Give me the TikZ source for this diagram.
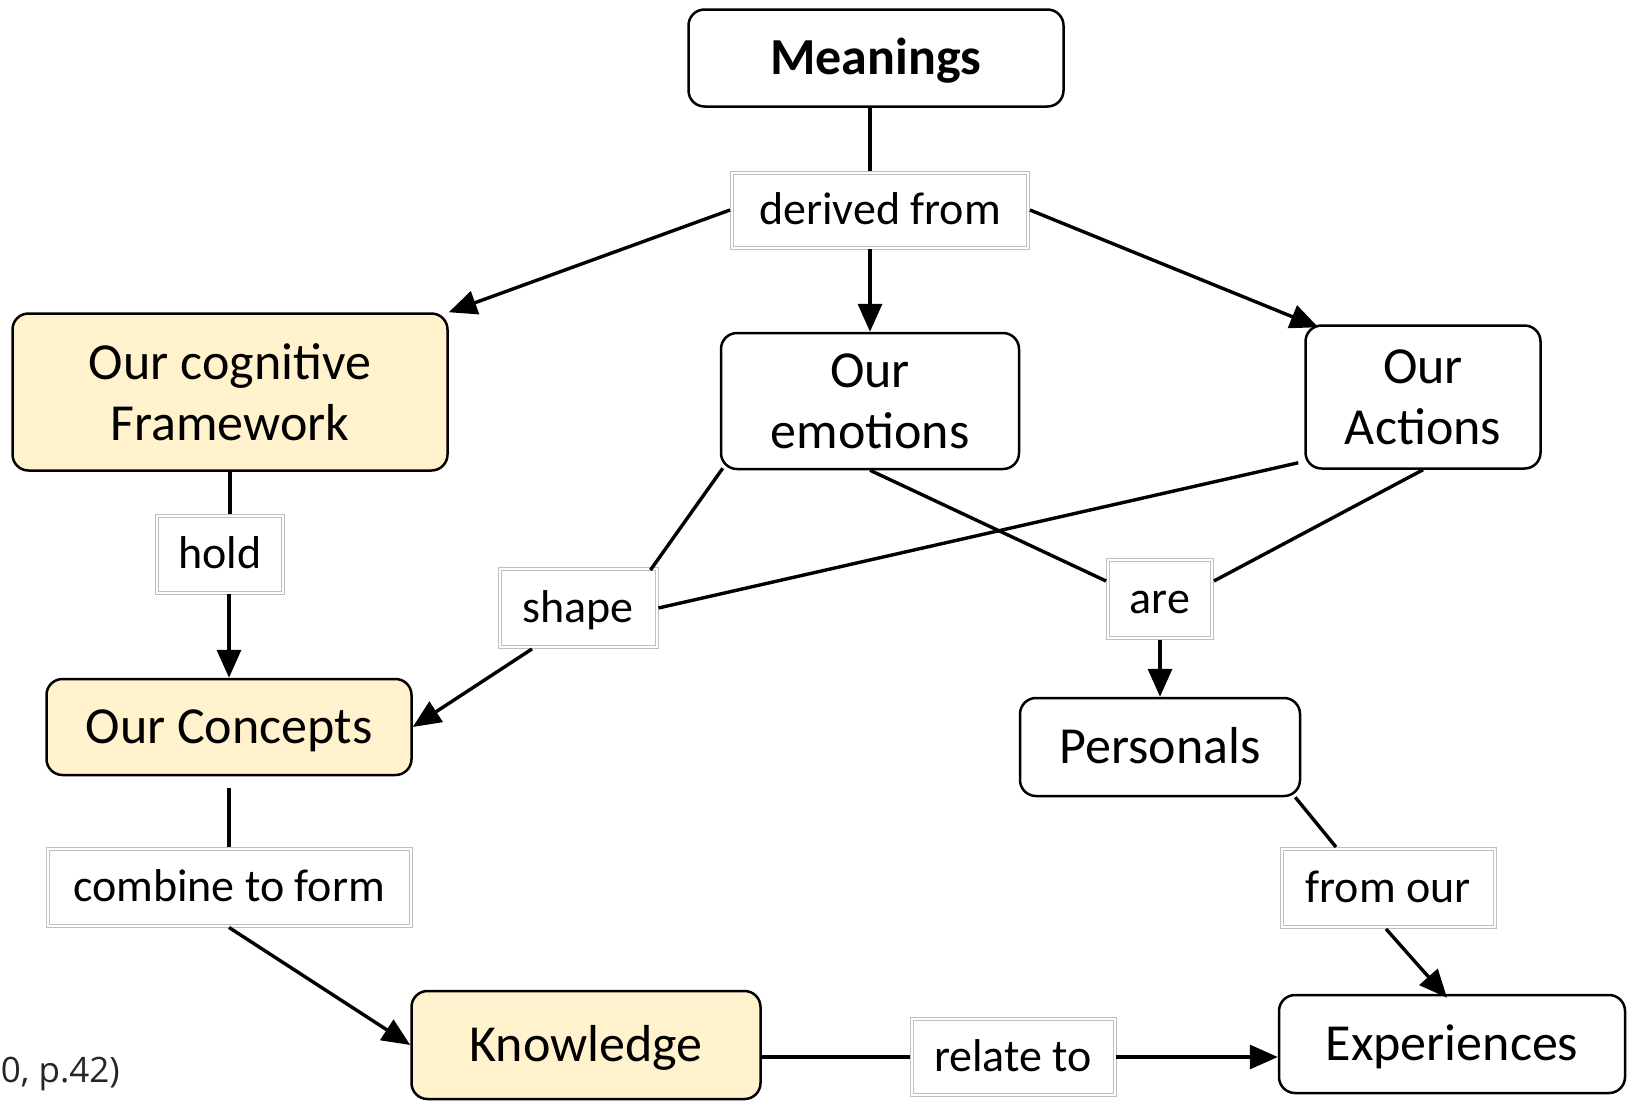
\documentclass[tikz,border=0pt]{standalone}
\usepackage{fontspec}
\setmainfont{Carlito}
\newfontfamily\citefont{Open Sans}
\usetikzlibrary{arrows.meta,calc}
\definecolor{cream}{HTML}{FFF2CC}
\begin{document}
\begin{tikzpicture}[x=1pt,y=1pt,
  box/.style={draw=black, line width=2.5pt, rounded corners=16pt, fill=white, inner sep=0pt, align=center, font=\fontsize{52}{61}\selectfont},
  one/.style={text height=33pt, text depth=0pt},
  ybox/.style={box, fill=cream},
  lbl/.style={draw=black!25, line width=0.9pt, fill=white, inner sep=0pt, text height=29pt, text depth=0pt, font=\fontsize{46}{52}\selectfont},
  inframe/.style={draw=black!25, line width=0.9pt},
  con/.style={line width=3.4pt},
  arr/.style={con, -{Triangle[length=28pt,width=24pt]}}]
\fill[white] (0,0) rectangle (1627,-1101);
\useasboundingbox (0,0) rectangle (1627,-1101);

% main nodes
\node[box, one, minimum width=375pt, minimum height=97pt] (mean) at (876,-58) {\bfseries Meanings};
\node[ybox, minimum width=435pt, minimum height=157pt] (fw) at (230,-392) {Our cognitive\\Framework};
\node[box, minimum width=298pt, minimum height=136pt] (emo) at (870,-401) {Our\\emotions};
\node[box, minimum width=235pt, minimum height=143pt] (act) at (1423,-397) {Our\\Actions};
\node[ybox, one, minimum width=365pt, minimum height=96pt] (cons) at (229,-727) {Our Concepts};
\node[box, one, minimum width=280pt, minimum height=98pt] (per) at (1160,-747) {Personals};
\node[ybox, one, minimum width=349pt, minimum height=108pt] (kn) at (586,-1045) {Knowledge};
\node[box, one, minimum width=346pt, minimum height=98pt] (exp) at (1452,-1044) {Experiences};

% link labels
\node[lbl, minimum width=299pt, minimum height=78pt] (df) at (880,-210) {derived from};
\node[lbl, minimum width=129pt, minimum height=80pt] (hold) at (220,-554) {hold};
\node[lbl, minimum width=160pt, minimum height=81pt] (shape) at (578,-608) {shape};
\node[lbl, minimum width=107pt, minimum height=81pt] (are) at (1160,-599) {are};
\node[lbl, minimum width=366pt, minimum height=80pt] (comb) at (229,-887) {combine to form};
\node[lbl, minimum width=216pt, minimum height=81pt] (fo) at (1388,-888) {from our};
\node[lbl, minimum width=206pt, minimum height=79pt] (rel) at (1013,-1057) {relate to};
\foreach \n in {df,hold,shape,are,comb,fo,rel}
  \draw[inframe] ($(\n.south west)+(3.5,3.5)$) rectangle ($(\n.north east)+(-3.5,-3.5)$);

% citation fragment
\node[anchor=base east, inner sep=0pt, font=\citefont\fontsize{35}{40}\selectfont, text=black!85] (cite) at (120,-1082) {0, p.42)};

% connectors
\draw[con] (mean.south -| emo.north) -- (df.north -| emo.north);
\draw[arr] (df.west) -- (fw.north east);
\draw[arr] (df.south -| emo.north) -- (emo.north);
\draw[arr] (df.east) -- ($(act.north west)+(14,-3)$);

\draw[con] (fw.south) -- (fw.south |- hold.north);
\draw[arr] (cons.north |- hold.south) -- (cons.north);

\draw[con] ($(emo.south west)+(3,2)$) -- ($(shape.north east)+(-8,-3)$);
\draw[con] ($(act.south west)+(-6,7)$) -- (shape.east);
\draw[arr] ($(shape.south)+(-46,0)$) -- (cons.east);

\draw[con] (emo.south) -- ($(are.west)+(0,18)$);
\draw[con] (act.south) -- ($(are.east)+(0,18)$);
\draw[arr] (are.south) -- (per.north);

\draw[con] ($(cons.south)+(0,-12)$) -- (comb.north);
\draw[arr] (comb.south) -- (kn.west);

\draw[con] ($(per.south east)+(-6,0)$) -- ($(fo.north)+(-52,0)$);
\draw[arr] ($(fo.south)+(-2,0)$) -- ($(exp.north)+(-5,-4)$);

\draw[con] (rel.west -| kn.east) -- (rel.west);
\draw[arr] (rel.east) -- (rel.east -| exp.west);
\end{tikzpicture}
\end{document}
